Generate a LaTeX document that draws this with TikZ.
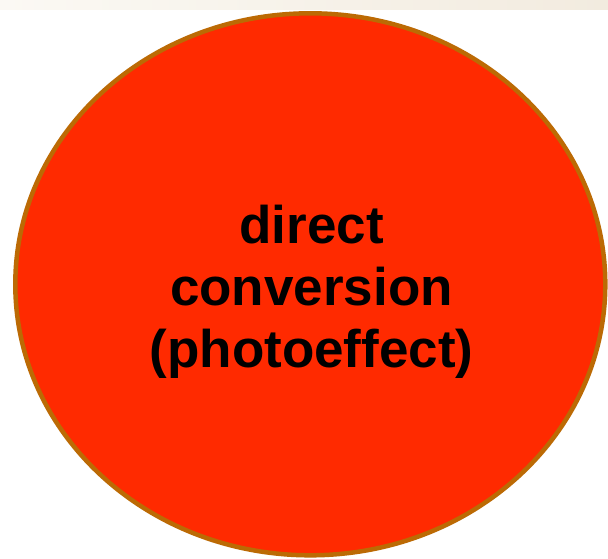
\documentclass[tikz,border=0pt]{standalone}
\usepackage{fontspec}
\setmainfont{Liberation Sans}
\usetikzlibrary{shapes.geometric}
\begin{document}
\begin{tikzpicture}[x=1pt,y=-1pt,
  blob/.style={ellipse,draw=borderbrown,line width=4.5pt,fill=hotred,
    minimum width=590pt,minimum height=542pt,inner sep=0pt},
  caption/.style={font=\fontsize{53}{62}\selectfont\bfseries,align=center,text=black}]
\definecolor{borderbrown}{HTML}{BC6A04}
\definecolor{hotred}{HTML}{FF2A00}
\definecolor{bandlight}{HTML}{FBF9F4}
\definecolor{banddark}{HTML}{F2EBDF}
\useasboundingbox (0,0) rectangle (608,558);
\fill[white] (0,0) rectangle (608,558);
% header band along the top edge
\shade[left color=bandlight,right color=banddark] (0,0) rectangle (608,9);
\node[blob] (disc) at (310.3,284.3) {};
\node[caption] (label) at (311.5,292) {direct\\conversion\\(photoeffect)};
\end{tikzpicture}
\end{document}
